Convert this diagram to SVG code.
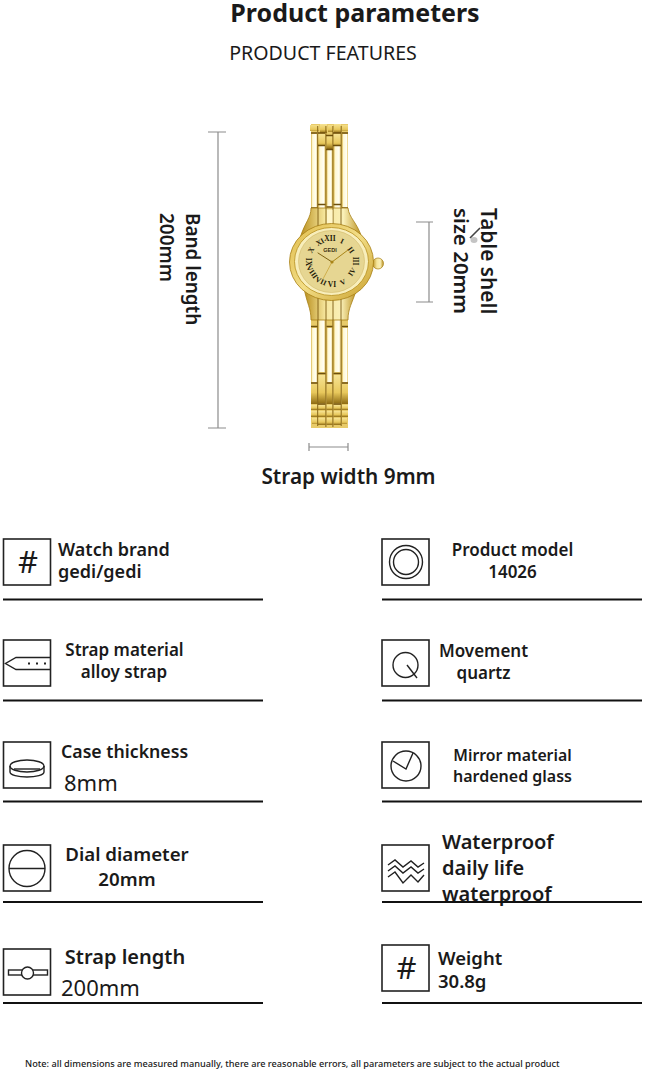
<svg xmlns="http://www.w3.org/2000/svg" width="645" height="1072" viewBox="0 0 645 1072">
<style>
text{font-family:"Noto Sans","Open Sans","Liberation Sans",sans-serif;fill:#1a1a1a}
.b{font-size:17px;font-weight:600}
.c{text-anchor:middle}
.r{font-size:22px;font-weight:400}
.l{font-size:20px;font-weight:600}
.sep{stroke:#111;stroke-width:2;fill:none}
.box{fill:#fff;stroke:#222;stroke-width:1.6}
.ic{fill:none;stroke:#222;stroke-width:1.4}
.dim{stroke:#8c8c8c;stroke-width:1.2;fill:none}
.num{font-family:"Liberation Serif",serif;font-size:7.5px;font-weight:700;fill:#241a08;text-anchor:middle;dominant-baseline:central}
.hash{font-size:31px;font-weight:400;text-anchor:middle}
.col{fill:url(#col)}
.link{fill:url(#v)}
.sepv{stroke:#7a5a10;stroke-width:.9;fill:none}
.dark{stroke:#6d4f0c;stroke-width:1.4;fill:none}
</style>
<defs>
<linearGradient id="col" x1="0" x2="1" y1="0" y2="0">
<stop offset="0" stop-color="#dcb84e"/><stop offset=".25" stop-color="#fff8d4"/><stop offset=".75" stop-color="#fffef4"/><stop offset="1" stop-color="#e6c666"/>
</linearGradient>
<linearGradient id="g" x1="0" x2="1" y1="0" y2="0">
<stop offset="0" stop-color="#b88e1c"/><stop offset=".4" stop-color="#f6e69c"/><stop offset=".7" stop-color="#faf0b8"/><stop offset="1" stop-color="#b88e1c"/>
</linearGradient>
<linearGradient id="v" x1="0" x2="0" y1="0" y2="1">
<stop offset="0" stop-color="#f6e394"/><stop offset=".6" stop-color="#e8c85c"/><stop offset="1" stop-color="#8d6a12"/>
</linearGradient>
<linearGradient id="ring" x1="0" x2="1" y1="0" y2="1">
<stop offset="0" stop-color="#e0bc4c"/><stop offset=".5" stop-color="#f2dd86"/><stop offset="1" stop-color="#c9a02c"/>
</linearGradient>
</defs>
<rect width="645" height="1072" fill="#fff"/>

<g id="header">
<text x="355" y="22" class="c" style="font-size:25px;font-weight:700">Product parameters</text>
<text x="323" y="60" class="c" style="font-size:19.6px">PRODUCT FEATURES</text>
</g>

<g id="watch">
<g id="upper-strap">
<rect x="311" y="124" width="37" height="86" fill="#e8cb6a"/>
<rect class="col" x="311" y="134" width="6.500" height="74"/>
<rect class="col" x="318" y="146" width="7.500" height="62"/>
<rect class="col" x="326.500" y="150" width="6" height="58"/>
<rect class="col" x="333.500" y="146" width="7.500" height="62"/>
<rect class="col" x="342" y="134" width="6" height="74"/>
<path class="link" d="M310 125h9v6h-9zM320 124h7v9h-7zM328 125h5v7h-5zM334 124h7v9h-7zM342 125h6v6h-6z"/>
<path class="link" d="M318 134h7v11h-7zM326.500 136h6v13h-6zM333.500 134h7v11h-7z"/>
<path class="sepv" d="M317.700 126V208M325.900 126V208M332.900 126V208M341.200 126V208"/>
<path class="dark" d="M311 133h6M318 133h7M333 133h8M342 133h6M326 135.500h7M318 145.500h7M333 145.500h8M326 149.500h7"/>
<path class="dark" d="M311 208h6.500M318 204.500h7.500M326.500 207h6M333.500 204.500h7.500M342 208h6"/>
</g>
<g id="lower-strap">
<rect x="311" y="318" width="37" height="110" fill="#e8cb6a"/>
<rect class="col" x="311" y="328" width="6.500" height="54"/>
<rect class="col" x="318" y="320" width="7.500" height="52"/>
<rect class="col" x="326.500" y="328" width="6" height="54"/>
<rect class="col" x="333.500" y="320" width="7.500" height="52"/>
<rect class="col" x="342" y="328" width="6" height="54"/>
<path class="link" d="M311 384h6.500v20h-6.500zM318 375h7.500v28h-7.500zM326.500 384h6v20h-6zM333.500 375h7.500v28h-7.500zM342 384h6v20h-6z"/>
<path class="link" d="M311 405h6.500v5h-6.500zM318 405h7.500v5h-7.500zM326.500 405h6v5h-6zM333.500 405h7.500v5h-7.500zM342 405h6v5h-6z"/>
<path class="link" d="M311 411h6.500v6h-6.500zM318 411h7.500v6h-7.500zM326.500 411h6v6h-6zM333.500 411h7.500v6h-7.500zM342 411h6v6h-6z"/>
<path class="link" d="M312 418h5.500v6h-5.500zM318 418h7.500v7h-7.500zM326.500 418h6v7h-6zM333.500 418h7.500v7h-7.500zM342 418h5v6h-5z"/>
<path class="sepv" d="M317.700 316V426M325.900 316V427M332.900 316V427M341.200 316V426"/>
<path class="dark" d="M318 318h7.500M333.500 318h7.500M311 326.500h6.500M326.500 326.500h6M342 326.500h6M318 373.500h7.500M333.500 373.500h7.500M311 383h6.500M326.500 383h6M342 383h6M318 404h7.500M333.500 404h7.500"/>
</g>
<path d="M311 208C311 218 305 222 300 238H362C357 222 349 218 348 208Z" fill="url(#g)" stroke="#a77f14" stroke-width=".8"/>
<path class="sepv" d="M318 208V226M326 208V226M333 208V226M341 208V226"/>
<rect x="327" y="210" width="5.500" height="14" fill="#fff6c8"/>
<path d="M304 288C307 304 311 308 311 320H348C348 308 352 304 357 288Z" fill="url(#g)" stroke="#a77f14" stroke-width=".8"/>
<path class="sepv" d="M318 298V320M326 298V320M333 298V320M341 298V320"/>
<circle cx="378" cy="263.500" r="5.500" fill="url(#g)" stroke="#a77f14" stroke-width=".7"/>
<ellipse cx="331.500" cy="262" rx="42" ry="38.500" fill="url(#ring)" stroke="#a77f14" stroke-width=".8"/>
<ellipse cx="331.500" cy="261.500" rx="37" ry="34" fill="#f8eebb" stroke="#b8901f" stroke-width=".8"/>
<ellipse cx="331.500" cy="261.500" rx="33" ry="31" fill="#e6d692" stroke="#cdb260" stroke-width=".5"/>
<g id="numerals">
<text class="num" x="330" y="238">XII</text>
<text class="num" transform="translate(342 241) rotate(25)">I</text>
<text class="num" transform="translate(351 250) rotate(55)">II</text>
<text class="num" transform="translate(355 261) rotate(90)">III</text>
<text class="num" transform="translate(352 272) rotate(-55)">IV</text>
<text class="num" transform="translate(343 282) rotate(-25)">V</text>
<text class="num" x="332" y="284">VI</text>
<text class="num" transform="translate(321 281) rotate(25)">VII</text>
<text class="num" transform="translate(312 272) rotate(55)">VIII</text>
<text class="num" transform="translate(308 262) rotate(90)">IX</text>
<text class="num" transform="translate(311 250) rotate(-60)">X</text>
<text class="num" transform="translate(320 242) rotate(-30)">XI</text>
</g>
<text x="330" y="252" text-anchor="middle" style="font-size:5.500px;font-weight:600;fill:#3a2c10;font-family:'Liberation Sans',sans-serif">GEDI</text>
<g id="hands" stroke-linecap="round" fill="none">
<path d="M332 262L348 250" stroke="#a98518" stroke-width="1"/>
<path d="M332 262L318 253" stroke="#7d6010" stroke-width="1"/>
<path d="M332 262L323 279" stroke="#c9a43a" stroke-width=".8"/>
<circle cx="332" cy="262" r="1.600" fill="#a98518"/>
</g>
</g>

<g id="dimensions">
<path class="dim" d="M218 132V428M208 132H226M208 428H226"/>
<path class="dim" d="M429 222V302M416 222H433M416 302H433"/>
<path class="dim" d="M309 447H348M309 443V451M348 443V451"/>
<text transform="translate(185.500 213) rotate(90)" style="font-size:18.900px;font-weight:600">Band length</text>
<text transform="translate(159.500 213) rotate(90)" style="font-size:19px;font-weight:600">200mm</text>
<text transform="translate(481 208) rotate(90)" style="font-size:20.800px;font-weight:600">Table shell</text>
<text transform="translate(454 208) rotate(90)" style="font-size:20.500px;font-weight:600">size 20mm</text>
<ellipse cx="474" cy="240" rx="3.500" ry="3" fill="#c4c4c4"/>
<path d="M480 228L470 238" stroke="#444" stroke-width="1.600"/>
<text x="348.500" y="484" class="c" style="font-size:20.800px;font-weight:600">Strap width 9mm</text>
</g>

<g id="brand">
<rect class="box" x="3.500" y="539" width="47" height="46"/>
<text class="hash" x="28" y="573">#</text>
<text class="b" x="58" y="556" style="font-size:18px">Watch brand</text>
<text class="b" x="58" y="578" style="font-size:18px">gedi/gedi</text>
<path class="sep" d="M3 599.500H263"/>
</g>
<g id="strap-material">
<rect class="box" x="3.500" y="640" width="47" height="46"/>
<path class="ic" d="M50 657.500H16L5.500 663.500L16 669.500H50"/>
<path d="M28 663.500h2M36 663.500h2M44 663.500h2" stroke="#222" stroke-width="2"/>
<text class="b c" x="124.500" y="656">Strap material</text>
<text class="b c" x="124" y="678">alloy strap</text>
<path class="sep" d="M3 700.500H263"/>
</g>
<g id="case-thickness">
<rect class="box" x="3.500" y="742" width="47" height="46"/>
<ellipse class="ic" cx="27" cy="766" rx="17" ry="6"/>
<path class="ic" d="M10 766V772C10 775 18 777 27 777S44 775 44 772V766"/>
<path class="ic" d="M14 769H40"/>
<text class="b" x="61" y="758" style="font-size:17.700px">Case thickness</text>
<text class="r" x="64" y="791">8mm</text>
<path class="sep" d="M3 801.500H263"/>
</g>
<g id="dial-diameter">
<rect class="box" x="3.500" y="845" width="47" height="46"/>
<circle class="ic" cx="27" cy="868.500" r="18"/>
<path class="ic" d="M9 868.500H45"/>
<text class="b c" x="127" y="861" style="font-size:18.700px">Dial diameter</text>
<text class="b c" x="127" y="886" style="font-size:18.700px">20mm</text>
<path class="sep" d="M3 902H263"/>
</g>
<g id="strap-length">
<rect class="box" x="3.500" y="949" width="47" height="46"/>
<rect class="ic" x="8.500" y="970" width="39" height="5"/>
<circle cx="27.500" cy="973" r="6" fill="#fff" stroke="#222" stroke-width="1.400"/>
<text class="l c" x="125" y="964">Strap length</text>
<text class="r" x="61" y="996">200mm</text>
<path class="sep" d="M3 1003H263"/>
</g>

<g id="product-model">
<rect class="box" x="382" y="539" width="47" height="46"/>
<circle class="ic" cx="406" cy="562" r="16.500"/>
<circle class="ic" cx="406" cy="562" r="12.500"/>
<text class="b c" x="512.500" y="556">Product model</text>
<text class="b c" x="512.500" y="578">14026</text>
<path class="sep" d="M382 599.500H642"/>
</g>
<g id="movement">
<rect class="box" x="382" y="640" width="47" height="46"/>
<circle class="ic" cx="405.500" cy="665" r="12.500"/>
<path class="ic" d="M407 665L417 678"/>
<text class="b c" x="483.500" y="657">Movement</text>
<text class="b c" x="483.500" y="679">quartz</text>
<path class="sep" d="M382 700.500H642"/>
</g>
<g id="mirror-material">
<rect class="box" x="382" y="742" width="47" height="46"/>
<circle class="ic" cx="406" cy="766" r="15"/>
<path class="ic" d="M393 761L406 769L413 753"/>
<text class="b c" x="512.500" y="761" style="font-size:15.800px">Mirror material</text>
<text class="b c" x="512.500" y="782" style="font-size:16px">hardened glass</text>
<path class="sep" d="M382 801.500H642"/>
</g>
<g id="waterproof">
<rect class="box" x="382" y="845" width="47" height="46"/>
<path class="ic" d="M388 865L395 860L403 867L411 861L418 867L424 863M388 871L395 866L403 873L411 867L418 873L424 869M388 877L395 872L403 883L411 875L418 882L424 875"/>
<text class="l" x="442" y="849">Waterproof</text>
<text class="l" x="442" y="875">daily life</text>
<text class="l" x="442" y="901">waterproof</text>
<path class="sep" d="M382 902H642"/>
</g>
<g id="weight">
<rect class="box" x="382" y="945" width="47" height="46"/>
<text class="hash" x="406.500" y="979">#</text>
<text class="b" x="438" y="965" style="font-size:18.500px">Weight</text>
<text class="b" x="438" y="988" style="font-size:18.500px">30.8g</text>
<path class="sep" d="M382 1003H642"/>
</g>
<text id="note" x="25" y="1067" style="font-size:9.200px;font-weight:500">Note: all dimensions are measured manually, there are reasonable errors, all parameters are subject to the actual product</text>
</svg>
